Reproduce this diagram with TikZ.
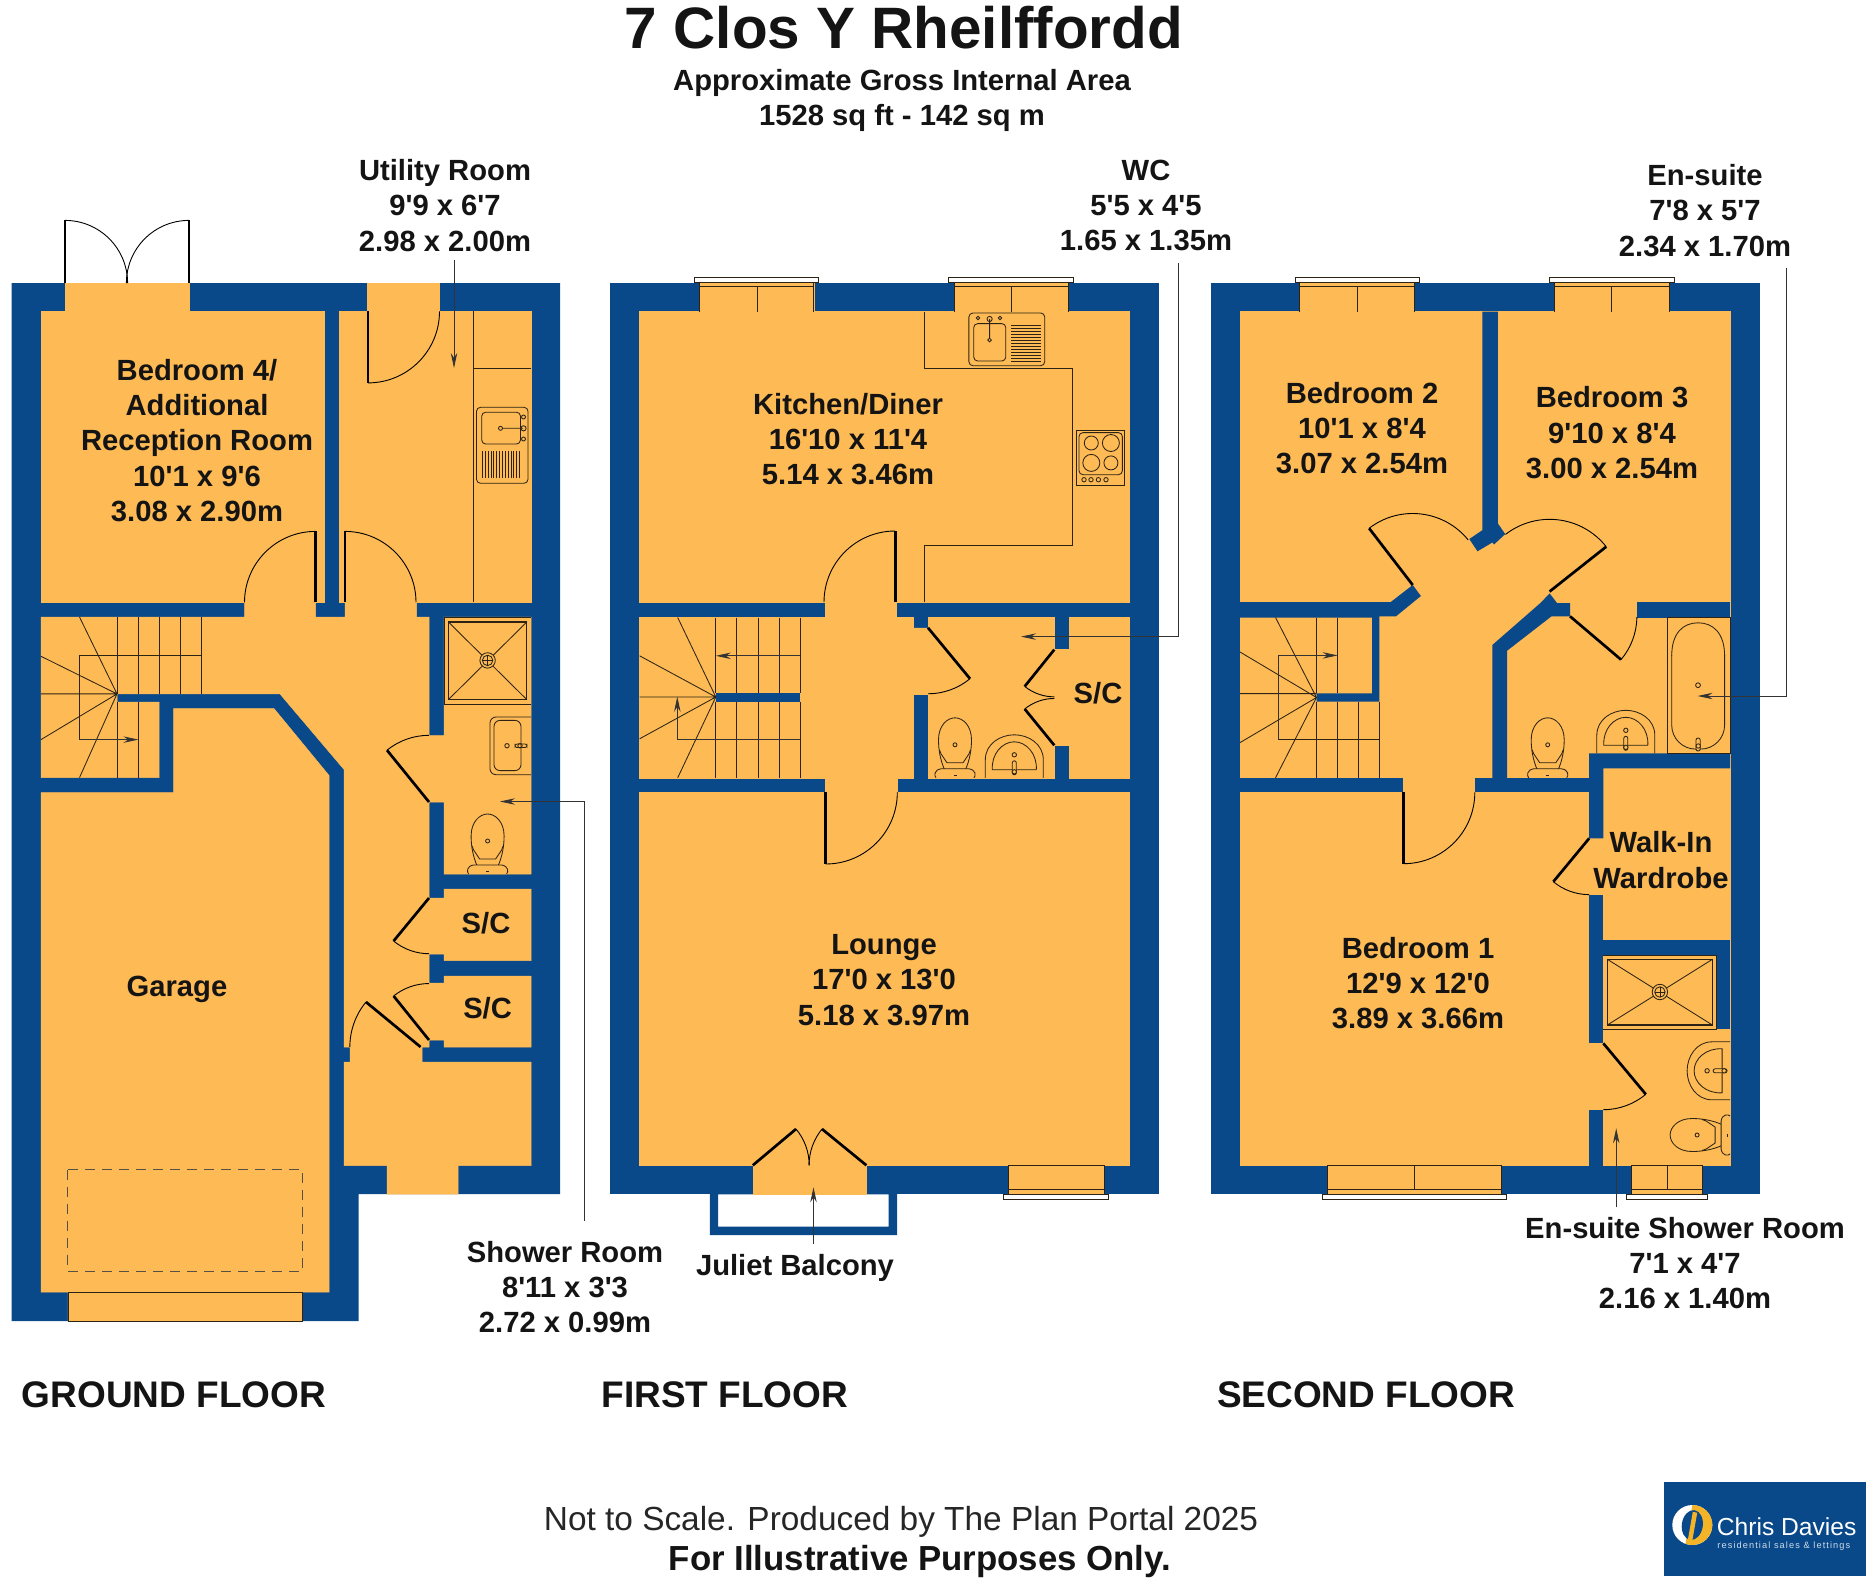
\documentclass[tikz,border=0pt]{standalone}
\usepackage{fontspec}
\usetikzlibrary{calc,arrows.meta}
\newfontfamily\lab{Liberation Sans}
\newfontfamily\labsp{Liberation Sans}[LetterSpace=12]
\definecolor{wallc}{RGB}{10,73,137}
\definecolor{floorc}{RGB}{253,186,85}
\definecolor{linec}{RGB}{45,35,20}
\definecolor{goldc}{RGB}{244,180,40}
\tikzset{
  wall/.style={fill=wallc,draw=none},
  floor/.style={fill=floorc,draw=floorc,line width=.25pt},
  thinl/.style={draw=linec,line width=.42pt},
  fix/.style={draw=linec,line width=.42pt},
  leaf/.style={draw=black,line width=1.35pt,line cap=butt},
  swing/.style={draw=black,line width=.45pt},
  leader/.style={draw=black!80,line width=.42pt,-{Stealth[length=7.5pt,width=3.2pt]}},
  room/.style={font=\lab\bfseries\fontsize{14.6}{17.6}\selectfont,align=center,text=black!92,inner sep=0pt},
  floorname/.style={font=\lab\bfseries\fontsize{18.5}{22}\selectfont,anchor=west,inner sep=0pt,text=black!92},
}
\newcommand\door[3]{%
  \draw[leaf] (#1) -- (#2);
  \draw[swing] let \p1=(#1), \p2=(#2), \p3=(#3),
    \n1={atan2(\y2-\y1,\x2-\x1)}, \n2={atan2(\y3-\y1,\x3-\x1)},
    \n3={mod(\n2-\n1+540,360)-180}, \n4={veclen(\x2-\x1,\y2-\y1)} in
    (#2) arc[start angle=\n1,delta angle=\n3,radius=\n4];}
\newcommand\winTop[5]{% x1 x2 mullion sill1 sill2
  \fill[floor] (#1,282.6) rectangle (#2,311.7);
  \draw[thinl] (#1,311.7) -- (#1,282.6) -- (#2,282.6) -- (#2,311.7);
  \draw[thinl] (#1,286.8) -- (#2,286.8) (#3,286.8) -- (#3,311.7);
  \draw[thinl,fill=white] (#4,282.6) rectangle (#5,277.7);}
\newcommand\winBot[5]{%
  \fill[floor] (#1,1165.3) rectangle (#2,1194.3);
  \draw[thinl] (#1,1194.3) -- (#1,1165.3) -- (#2,1165.3) -- (#2,1194.3);
  \draw[thinl] (#1,1189.3) -- (#2,1189.3);
  \ifx&#3&\else\draw[thinl] (#3,1165.3) -- (#3,1189.3);\fi
  \draw[thinl,fill=white] (#4,1194.3) rectangle (#5,1199.3);}
\newcommand\wcunit[3]{%
  \begin{scope}[shift={(#1,#2)},rotate=#3]
  \draw[fix,fill=floorc] (-10,-7) .. controls (-15,-18) and (-16.5,-29) .. (-16.5,-38) .. controls (-16.5,-52) and (-8,-60) .. (0,-60) .. controls (8,-60) and (16.5,-52) .. (16.5,-38) .. controls (16.5,-29) and (15,-18) .. (10,-7);
  \draw[fix] (-15.5,-28) -- (-14,-24) -- (-8,-15) -- (8,-15) -- (14,-24) -- (15.5,-28);
  \draw[fix] (0,-33) circle (2);
  \draw[fix,fill=floorc] (-19,0) .. controls (-21,-2) and (-21,-8) .. (-14,-9) -- (14,-9) .. controls (21,-8) and (21,-2) .. (19,0);
  \fill[linec] (-1.5,-3) rectangle (1.5,-1.8);
  \end{scope}}
\newcommand\basinunit[3]{%
  \begin{scope}[shift={(#1,#2)},rotate=#3]
  \draw[fix] (-29,0) -- (-29,-18) .. controls (-29,-34) and (-14,-43) .. (0,-43) .. controls (14,-43) and (29,-34) .. (29,-18) -- (29,0);
  \draw[fix] (-22,-8) -- (22,-8) .. controls (23,-24) and (12,-36) .. (0,-36) .. controls (-12,-36) and (-23,-24) .. (-22,-8) -- cycle;
  \draw[fix] (0,-23) circle (2.2);
  \draw[fix,fill=floorc,rounded corners=1pt] (-2,-17) rectangle (2,-3);
  \draw[fix,fill=floorc] (0,-6) circle (2.2);
  \end{scope}}
\newcommand\tray[6]{% x1 y1 x2 y2 cx cy
  \draw[fix,line width=.6pt] (#1,#2) rectangle (#3,#4);
  \draw[fix] (#1,#2) -- (#3,#4) (#3,#2) -- (#1,#4);
  \draw[fix,fill=floorc] (#5,#6) circle (7.7);
  \draw[fix] (#5,#6) circle (5.2);
  \draw[fix] ($(#5,#6)+(-5.2,0)$) -- ($(#5,#6)+(5.2,0)$) ($(#5,#6)+(0,-5.2)$) -- ($(#5,#6)+(0,5.2)$);}
\begin{document}
\begin{tikzpicture}[x=.5pt,y=-.5pt]
\useasboundingbox (0,0) rectangle (1874,1585);
\fill[white] (0,0) rectangle (1874,1585);

%% ============ GROUND FLOOR
\fill[wall] (11.5,283) -- (560,283) -- (560,1194) -- (358.5,1194) -- (358.5,1321) -- (11.5,1321) -- cycle;
% bedroom 4
\fill[floor] (41,311.4) -- (65,311.4) -- (65,283) -- (189,283) -- (189,311.4) -- (324.5,311.4) -- (324.5,602.4) -- (41,602.4) -- cycle;
% utility
\fill[floor] (339,311.4) -- (367,311.4) -- (367,283) -- (439,283) -- (439,311.4) -- (531,311.4) -- (531,602.4) -- (339,602.4) -- cycle;
% hall, stairs, shower room, cupboards, entrance
\fill[floor] (41,617) -- (244.5,617) -- (244.5,602.4) -- (315.5,602.4) -- (315.5,617) -- (345,617) -- (345,602.4) -- (416.5,602.4) -- (416.5,617) -- (429,617) -- (429,735.5) -- (444,735.5) -- (444,617) -- (531,617) -- (531,874) -- (444,874) -- (444,802) -- (429,802) -- (429,898) -- (444,898) -- (444,889) -- (531,889) -- (531,960.5) -- (444,960.5) -- (444,954) -- (429,954) -- (429,983) -- (444,983) -- (444,976) -- (531,976) -- (531,1047) -- (444,1047) -- (444,1040) -- (429,1040) -- (429,1047) -- (422,1047) -- (422,1062) -- (531,1062) -- (531,1165.5) -- (458,1165.5) -- (458,1194) -- (387,1194) -- (387,1165.5) -- (344,1165.5) -- (344,1062) -- (350,1062) -- (350,1047) -- (344,1047) -- (344,769.4) -- (280,693.9) -- (117,693.9) -- (117,702) -- (159,702) -- (159,777.6) -- (41,777.6) -- cycle;
% garage
\fill[floor] (41,792.7) -- (173.5,792.7) -- (173.5,708.6) -- (274,708.6) -- (329,775.5) -- (329,1292) -- (302,1292) -- (302,1321) -- (68,1321) -- (68,1292) -- (41,1292) -- cycle;
\draw[thinl] (68,1321) -- (68,1292) -- (302,1292) -- (302,1321) -- cycle;
\draw[draw=linec!80,line width=.45pt,dash pattern=on 5pt off 3.5pt] (67.7,1169.6) rectangle (302.6,1271.3);
% doors
\door{65,283}{65,220.4}{127,283}
\door{189,283}{189,220.4}{127,283}
\door{368,311.4}{368,382.9}{439,311.4}
\door{315.5,602.4}{315.5,531.4}{244.5,602.4}
\door{345,602.4}{345,531.4}{416.5,602.4}
\door{429,802}{387,750.2}{429,735.5}
\door{429,898}{393.6,941}{429,954}
\door{429,1040}{393.6,996}{429,983}
\door{420.6,1047}{366,1002}{350,1047}
% utility worktop and sink
\draw[thinl] (473.5,311.4) -- (473.5,602.4) (473.5,368.6) -- (531,368.6);
\draw[fix,rounded corners=2pt] (476.5,407.3) rectangle (528,483.3);
\draw[fix,rounded corners=2pt] (481.7,412.2) rectangle (520.5,444);
\foreach \d in {0,1,...,13} {\draw[fix] ({482.5+\d*2.85},451) -- ({482.5+\d*2.85},477.6);}
\draw[fix] (500.5,428.3) circle (2) (502.5,428.3) -- (523,428.3);
\draw[fix] (523.5,428.3) circle (2.6) (523.5,417) circle (2) (523.5,439) circle (2);
% ground stairs
\draw[thinl] (138.4,617) -- (138.4,693.9) (117,617) -- (117,693.9) (159,617) -- (159,693.9) (180,617) -- (180,693.9) (201,617) -- (201,693.9);
\draw[thinl] (117,702) -- (117,777.6) (138.4,702) -- (138.4,777.6);
\draw[thinl] (79.5,617) -- (117,693.9) (41,656.3) -- (117,693.9) (41,693.9) -- (117,693.9) (41,739.6) -- (117,693.9) (79.5,777.6) -- (117,693.9);
\draw[thinl] (201,655) -- (79,655) -- (79,739.6);
\draw[leader] (79,739.6) -- (138.4,739.6);
% shower room
\tray{448.4}{622}{526.8}{699.6}{487.6}{660.4}
\draw[thinl] (444,617) -- (531,617) (444,704) -- (531,704) (444,617) -- (444,704);
\draw[fix,rounded corners=3pt] (531,717) -- (490,717) -- (490,774.7) -- (531,774.7);
\draw[fix,rounded corners=3pt] (521,720.4) -- (494,720.4) -- (494,770.6) -- (521,770.6) -- cycle;
\draw[fix] (507,745.7) circle (2.2);
\draw[fix,rounded corners=1pt] (515,744) rectangle (527,747.5);
\draw[fix] (520,745.7) circle (2.2);
\wcunit{487.6}{874}{0}

%% ============ FIRST FLOOR
\fill[wall] (610.4,282.6) rectangle (1158.6,1194.3);
\fill[wall,even odd rule] (709.9,1194) rectangle (897.1,1235) (718,1194.3) rectangle (888.6,1226.7);
\fill[floor] (639.6,311.7) rectangle (1129.4,602.2);
\winTop{699}{813.8}{757.2}{694.3}{818.6}
\winTop{954}{1068.4}{1011.4}{948.9}{1073.6}
\fill[floor] (639.6,617.5) -- (825,617.5) -- (825,602.2) -- (896,602.2) -- (896,617.5) -- (913.7,617.5) -- (913.7,627.8) -- (928,627.8) -- (928,617.5) -- (1054.3,617.5) -- (1054.3,649.6) -- (1069.1,649.6) -- (1069.1,617.5) -- (1129.4,617.5) -- (1129.4,777.8) -- (1069.1,777.8) -- (1069.1,745.3) -- (1054.3,745.3) -- (1054.3,777.8) -- (928,777.8) -- (928,694) -- (913.7,694) -- (913.7,777.8) -- (897,777.8) -- (897,792.4) -- (825,792.4) -- (825,777.8) -- (639.6,777.8) -- cycle;
\fill[wall] (715.8,693.3) rectangle (800,701.7);
\fill[floor] (639.6,792.4) rectangle (1129.4,1165.3);
\fill[floor] (752.8,1165) rectangle (866.7,1194.3);
\winBot{1008.4}{1104.3}{}{1003.3}{1108.7}
\door{825.7,792.4}{825.7,864}{896.7,792.4}
\door{895.2,602.2}{895.2,531}{825,602.2}
\door{928,627.8}{970,678.7}{928,694}
\door{1054.3,649.6}{1024.7,686.4}{1054.3,697}
\door{1054.3,745.3}{1024.7,709}{1054.3,697}
\door{752.8,1165.3}{796,1129}{809.8,1165.3}
\door{866.4,1165.3}{822,1129}{809.8,1165.3}
% kitchen units
\draw[thinl] (924.5,311.7) -- (924.5,368.7) -- (1072.4,368.7) -- (1072.4,545.5) -- (924.5,545.5) -- (924.5,602.2);
\draw[fix,rounded corners=2pt] (968.9,313) rectangle (1044.7,365.7);
\draw[fix,rounded corners=2pt] (973.7,323.6) rectangle (1005.8,361);
\foreach \d in {0,1,...,12} {\draw[fix] (1011.4,{325+\d*3}) -- (1041,{325+\d*3});}
\draw[fix] (989.6,319) circle (2.6) (989.6,319) -- (989.6,338);
\draw[fix] (989.6,340) circle (1.8) (978,318) circle (1.8) (1000,318) circle (1.8);
\draw[fix] (1076.5,430) rectangle (1124.6,485);
\draw[fix,rounded corners=2pt] (1079,432.6) rectangle (1122.4,474.7);
\draw[fix] (1091.3,443) circle (7) (1110.9,443) circle (8.5) (1091.3,462.9) circle (8.5) (1110.9,462.9) circle (7);
\foreach \k in {1084,1091,1098.4,1106} {\draw[fix] (\k,479.7) circle (2.2);}
% first stairs
\foreach \s in {715.8,736.9,758,779,800.1} {\draw[thinl] (\s,617.5) -- (\s,693.3) (\s,701.7) -- (\s,777.8);}
\draw[thinl] (677.7,617.5) -- (715.8,697) (639.6,655.8) -- (715.8,697) (639.6,697) -- (715.8,697) (639.6,738.8) -- (715.8,697) (677.7,777.8) -- (715.8,697);
\draw[leader] (800,655.8) -- (715.8,655.8);
\draw[leader] (800,739.6) -- (677.3,739.6) -- (677.3,696.7);
% WC room fixtures
\wcunit{955}{777.8}{0}
\basinunit{1014.3}{777.8}{0}

%% ============ SECOND FLOOR
\fill[wall] (1211.1,282.6) rectangle (1759.8,1194.3);
\fill[floor] (1240,311.7) rectangle (1730.1,1165.5);
\winTop{1299.9}{1414.6}{1357.2}{1295}{1419.8}
\winTop{1554.8}{1669.1}{1611.8}{1549.6}{1674.3}
\winBot{1327.6}{1501.5}{1414.2}{1322.8}{1506.3}
\winBot{1631}{1702.4}{1667.3}{1626.2}{1707.6}
\fill[wall] (1482.3,311.7) -- (1497.8,311.7) -- (1497.8,523.3) -- (1505.2,534.1) -- (1494.1,544.4) -- (1492.3,542.5) -- (1477.5,551.3) -- (1469.3,539) -- (1482.3,530.2) -- cycle;
\fill[wall] (1240,602.2) -- (1390.5,602.2) -- (1412.7,585) -- (1420.9,596) -- (1396,616.3) -- (1379.4,616.3) -- (1379.4,701.7) -- (1316.5,701.7) -- (1316.5,693.3) -- (1372,693.3) -- (1372,617.5) -- (1240,617.5) -- cycle;
\fill[wall] (1240,777.8) rectangle (1402.7,792.4);
\fill[wall] (1474.5,777.8) rectangle (1589.2,792.4);
\fill[wall] (1492.3,777.8) -- (1492.3,645) -- (1540.4,603) -- (1549.6,593.4) -- (1557,603) -- (1570,603) -- (1570,616.3) -- (1551.5,616.3) -- (1507,650.8) -- (1507,777.8) -- cycle;
\fill[wall] (1636.5,602.2) rectangle (1730.1,617.5);
\fill[wall] (1589.2,753.3) -- (1730.1,753.3) -- (1730.1,768.3) -- (1603.3,768.3) -- (1603.3,838.3) -- (1589.2,838.3) -- cycle;
\fill[wall] (1589.2,895) rectangle (1603.3,1043.3);
\fill[wall] (1589.2,1110) rectangle (1603.3,1166);
\fill[wall] (1603.3,940.3) rectangle (1730.1,955);
\fill[wall] (1716,955) rectangle (1730.1,1029.3);
\door{1412.7,585}{1369.1,528.3}{1469.3,539}
\door{1549.6,591.5}{1606.2,546.7}{1505.2,534.1}
\door{1570,616.3}{1621,659.6}{1636.5,617}
\door{1403.5,792.4}{1403.5,863.7}{1474.5,792.4}
\door{1589.2,838.3}{1553.3,881.7}{1589.2,895}
\door{1603.3,1043.3}{1645.8,1094.3}{1603.3,1110}
% second stairs
\foreach \s in {1316.5,1337.6} {\draw[thinl] (\s,617.5) -- (\s,693.3);}
\foreach \s in {1316.5,1337.6,1358.7,1379.8} {\draw[thinl] (\s,701.7) -- (\s,777.8);}
\draw[thinl] (1275.5,617.5) -- (1316.5,697.5) (1240,652) -- (1316.5,697.5) (1240,693.6) -- (1316.5,693.6) (1240,742.6) -- (1316.5,697.5) (1275.5,777.8) -- (1316.5,697.5);
\draw[thinl] (1379.8,739.6) -- (1278.4,739.6);
\draw[leader] (1278.4,739.6) -- (1278.4,655.4) -- (1337.6,655.4);
% bath
\draw[thinl] (1666.9,617.5) rectangle (1730.1,753.3);
\draw[fix,rounded corners=12pt] (1671.7,655) -- (1671.7,749.1) -- (1724.6,749.1) -- (1724.6,655);
\draw[fix] (1671.7,656) .. controls (1671.7,633) and (1683,622.8) .. (1698.1,622.8) .. controls (1713,622.8) and (1724.6,633) .. (1724.6,656);
\draw[fix] (1698,685.2) circle (2.4);
\draw[fix,fill=floorc,rounded corners=1pt] (1696,738) rectangle (1700.2,751);
\draw[fix,fill=floorc] (1698.2,746) circle (2.2);
\wcunit{1547.7}{777.8}{0}
\basinunit{1625.8}{753.3}{0}
% en-suite shower room
\tray{1607.3}{959.3}{1712.4}{1025}{1659.9}{992}
\draw[thinl] (1603.3,955) -- (1716,955) -- (1716,1029.3) -- (1603.3,1029.3);
\basinunit{1730.1}{1070.8}{90}
\wcunit{1730.1}{1135}{90}

%% ============ LABELS
\node[room,font=\lab\bfseries\fontsize{29.2}{34}\selectfont] (title) at (904,28) {7 Clos Y Rheilffordd};
\node[room] (area) at (902,100.5) {Approximate Gross Internal Area\\[.2pt]1528 sq ft - 142 sq m};
\node[room] (bed4) at (197,440.5) {Bedroom 4/\\Additional\\Reception Room\\10'1 x 9'6\\3.08 x 2.90m};
\node[room] (garage) at (177,989) {Garage};
\node[room] (sc1) at (486,923.5) {S/C};
\node[room] (sc2) at (487.6,1008) {S/C};
\node[room] (kitchen) at (848,439) {Kitchen/Diner\\16'10 x 11'4\\5.14 x 3.46m};
\node[room] (sc3) at (1098,693) {S/C};
\node[room] (lounge) at (884,980) {Lounge\\17'0 x 13'0\\5.18 x 3.97m};
\node[room] (bed2) at (1362,428) {Bedroom 2\\10'1 x 8'4\\3.07 x 2.54m};
\node[room] (bed3) at (1612,432.6) {Bedroom 3\\9'10 x 8'4\\3.00 x 2.54m};
\node[room] (bed1) at (1418,983) {Bedroom 1\\12'9 x 12'0\\3.89 x 3.66m};
\node[room] (wardrobe) at (1661,860) {Walk-In\\Wardrobe};
\node[room] (utility) at (445,205.5) {Utility Room\\9'9 x 6'7\\2.98 x 2.00m};
\node[room] (wc) at (1146,205.5) {WC\\5'5 x 4'5\\1.65 x 1.35m};
\node[room] (ensuite) at (1705,210.5) {En-suite\\7'8 x 5'7\\2.34 x 1.70m};
\node[room] (shower) at (565,1287) {Shower Room\\8'11 x 3'3\\2.72 x 0.99m};
\node[room] (juliet) at (795,1267.5) {Juliet Balcony};
\node[room] (esshower) at (1685,1263) {En-suite Shower Room\\7'1 x 4'7\\2.16 x 1.40m};
\node[floorname] (gf) at (21.5,1395) {GROUND FLOOR};
\node[floorname] (ff) at (601,1395) {FIRST FLOOR};
\node[floorname] (sf) at (1216.6,1395) {SECOND FLOOR};
\node[inner sep=0pt,text=black!85,font=\lab\fontsize{16.7}{20}\selectfont] (notscale) at (901,1521.5) {Not to Scale. Produced by The Plan Portal 2025};
\node[inner sep=0pt,text=black!92,font=\lab\bfseries\fontsize{17.4}{20}\selectfont] (illus) at (920,1561.5) {For Illustrative Purposes Only.};

%% ============ LEADERS
\coordinate (uA) at (454,260.4); \coordinate (uB) at (454,368);
\draw[leader] (uA) -- (uB);
\coordinate (wA) at (1178.3,263); \coordinate (wB) at (1178.3,636.6); \coordinate (wC) at (1021,636.6);
\draw[leader] (wA) -- (wB) -- (wC);
\coordinate (eA) at (1786.6,268); \coordinate (eB) at (1786.6,696); \coordinate (eC) at (1697.6,696);
\draw[leader] (eA) -- (eB) -- (eC);
\coordinate (sA) at (584.4,1221); \coordinate (sB) at (584.4,801.5); \coordinate (sC) at (500,801.5);
\draw[leader] (sA) -- (sB) -- (sC);
\coordinate (jA) at (813.5,1244); \coordinate (jB) at (813.5,1187.3);
\draw[leader] (jA) -- (jB);
\coordinate (fA) at (1616.2,1207.3); \coordinate (fB) at (1616.2,1128.3);
\draw[leader] (fA) -- (fB);

%% ============ LOGO
\fill[wallc] (1664.3,1482.3) rectangle (1866,1575.7);
\fill[white] (1692.3,1525) circle (20);
\fill[goldc] (1692.3,1505) arc[start angle=90,end angle=-110,x radius=20,y radius=-20] -- cycle;
\fill[wallc,rotate around={-8:(1692.3,1525)}] (1692.3,1525) ellipse (10.5 and 15);
\fill[goldc,rotate around={-10:(1692.3,1525)}] (1690.5,1512) rectangle (1695,1540);
\node[inner sep=0pt,anchor=west,text=white,font=\lab\fontsize{12.3}{15}\selectfont] (cd) at (1716.5,1527) {Chris Davies};
\node[inner sep=0pt,anchor=west,text=white!80!wallc,font=\labsp\fontsize{4.6}{6}\selectfont] (cdsub) at (1717,1546) {residential sales \& lettings};
\end{tikzpicture}
\end{document}
